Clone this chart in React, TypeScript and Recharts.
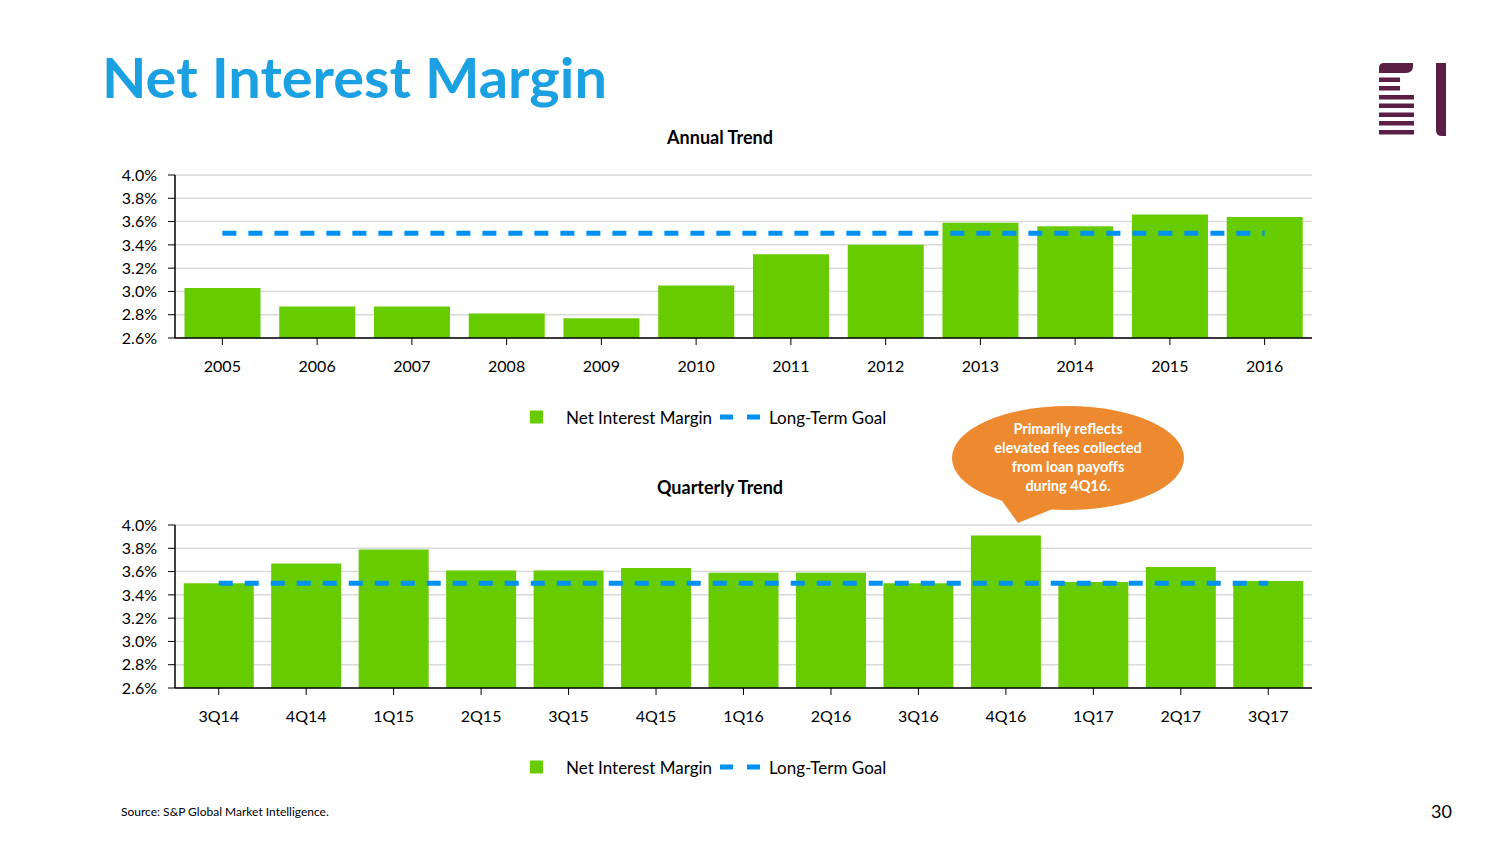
import React from 'react';
import { ComposedChart, Bar, Line, XAxis, YAxis, CartesianGrid } from 'recharts';

const annualCategories = ['2005', '2006', '2007', '2008', '2009', '2010', '2011', '2012', '2013', '2014', '2015', '2016'];
const annualNim = [3.03, 2.87, 2.87, 2.81, 2.77, 3.05, 3.32, 3.40, 3.59, 3.56, 3.66, 3.64];
const annualGoal = [3.5, 3.5, 3.5, 3.5, 3.5, 3.5, 3.5, 3.5, 3.5, 3.5, 3.5, 3.5];

const quarterCategories = ['3Q14', '4Q14', '1Q15', '2Q15', '3Q15', '4Q15', '1Q16', '2Q16', '3Q16', '4Q16', '1Q17', '2Q17', '3Q17'];
const quarterNim = [3.50, 3.67, 3.79, 3.61, 3.61, 3.63, 3.59, 3.59, 3.50, 3.91, 3.51, 3.64, 3.52];
const quarterGoal = [3.5, 3.5, 3.5, 3.5, 3.5, 3.5, 3.5, 3.5, 3.5, 3.5, 3.5, 3.5, 3.5];

const yTicks = [2.6, 2.8, 3.0, 3.2, 3.4, 3.6, 3.8, 4.0];

const calloutLines = ['Primarily reflects', 'elevated fees collected', 'from loan payoffs', 'during 4Q16.'];

const FONT = 'Lato, "Open Sans", sans-serif';
const GREEN = '#66CC00';
const BLUE = '#0091F2';

function buildRows(cats: string[], nim: number[], goal: number[]) {
  return cats.map((c, i) => ({ name: c, nim: nim[i], goal: goal[i] }));
}

function TrendChart({ top, data }: { top: number; data: { name: string; nim: number; goal: number }[] }) {
  return (
    <div style={{ position: 'absolute', left: 0, top, width: 1504, height: 230 }}>
      <ComposedChart
        width={1504}
        height={230}
        data={data}
        margin={{ top: 25, right: 192, bottom: 12, left: 115 }}
        barCategoryGap="10%"
      >
        <CartesianGrid vertical={false} stroke="#d9d9d9" strokeWidth={1.5} />
        <XAxis
          dataKey="name"
          interval={0}
          height={30}
          tickSize={7}
          tickMargin={16}
          axisLine={{ stroke: '#000', strokeWidth: 1.5 }}
          tickLine={{ stroke: '#000', strokeWidth: 1 }}
          tick={{ fill: '#000', fontSize: 16, fontFamily: FONT }}
        />
        <YAxis
          width={60}
          domain={[2.6, 4.0]}
          ticks={yTicks}
          allowDataOverflow
          tickSize={7}
          tickMargin={11}
          tickFormatter={(v: number) => v.toFixed(1) + '%'}
          axisLine={{ stroke: '#000', strokeWidth: 1.5 }}
          tickLine={{ stroke: '#000', strokeWidth: 1 }}
          tick={{ fill: '#000', fontSize: 16, fontFamily: FONT }}
        />
        <Bar dataKey="nim" fill={GREEN} isAnimationActive={false} />
        <Line
          dataKey="goal"
          type="linear"
          stroke={BLUE}
          strokeWidth={5}
          strokeDasharray="14 12"
          dot={false}
          activeDot={false}
          isAnimationActive={false}
        />
      </ComposedChart>
    </div>
  );
}

function LegendRow({ y }: { y: number }) {
  return (
    <g>
      <rect x={530} y={y - 6.5} width={13} height={13} fill={GREEN} />
      <text x={566} y={y} dominantBaseline="central" fontSize={17} fontFamily={FONT} fill="#000">
        Net Interest Margin
      </text>
      <rect x={720} y={y - 2.5} width={13} height={5} fill={BLUE} />
      <rect x={747} y={y - 2.5} width={13} height={5} fill={BLUE} />
      <text x={769} y={y} dominantBaseline="central" fontSize={17} fontFamily={FONT} fill="#000">
        Long-Term Goal
      </text>
    </g>
  );
}

export default function App() {
  const annualData = buildRows(annualCategories, annualNim, annualGoal);
  const quarterData = buildRows(quarterCategories, quarterNim, quarterGoal);
  return (
    <div style={{ position: 'absolute', left: 0, top: 0, width: 1504, height: 846, background: '#fff', overflow: 'hidden', fontFamily: FONT }}>
      <TrendChart top={150} data={annualData} />
      <TrendChart top={500} data={quarterData} />
      <svg width={1504} height={846} style={{ position: 'absolute', left: 0, top: 0, pointerEvents: 'none' }}>
        <text x={102} y={98} fontSize={56} fontWeight={700} fill="#1BA1E2" fontFamily={FONT} textLength={505} lengthAdjust="spacingAndGlyphs">
          Net Interest Margin
        </text>
        {/* logo */}
        <g fill="#5B1F45">
          <path d="M1379,73 L1379,68 Q1379,63 1384,63 L1413,63 L1413,66 Q1413,73 1406,73 Z" />
          <rect x={1379} y={77.5} width={21} height={4.5} />
          <rect x={1379} y={86} width={21} height={4.5} />
          <rect x={1379} y={95} width={35} height={4.5} />
          <rect x={1379} y={103.5} width={35} height={4.5} />
          <rect x={1379} y={112.5} width={35} height={4.5} />
          <rect x={1379} y={121} width={35} height={4.5} />
          <rect x={1379} y={130} width={35} height={4.5} />
          <path d="M1436,63 L1446,63 L1446,136 L1442,136 Q1436,136 1436,130 Z" />
        </g>
        <text x={720} y={137} textAnchor="middle" dominantBaseline="central" fontSize={18} fontWeight={700} fontFamily={FONT} fill="#000">
          Annual Trend
        </text>
        <text x={720} y={487} textAnchor="middle" dominantBaseline="central" fontSize={18} fontWeight={700} fontFamily={FONT} fill="#000">
          Quarterly Trend
        </text>
        <LegendRow y={417} />
        <LegendRow y={767} />
        {/* callout */}
        <g fill="#ED8A2F">
          <ellipse cx={1068} cy={458} rx={116} ry={52} />
          <polygon points="1000,498 1018,523 1060,506" />
        </g>
        {calloutLines.map((t, i) => (
          <text key={t} x={1068} y={428 + i * 19} textAnchor="middle" dominantBaseline="central" fontSize={14.5} fontWeight={700} fontFamily={FONT} fill="#fff">
            {t}
          </text>
        ))}
        <text x={121} y={811} dominantBaseline="central" fontSize={12} fontFamily={FONT} fill="#000">
          Source: S&amp;P Global Market Intelligence.
        </text>
        <text x={1452} y={811} textAnchor="end" dominantBaseline="central" fontSize={18} fontFamily={FONT} fill="#000">
          30
        </text>
      </svg>
    </div>
  );
}
